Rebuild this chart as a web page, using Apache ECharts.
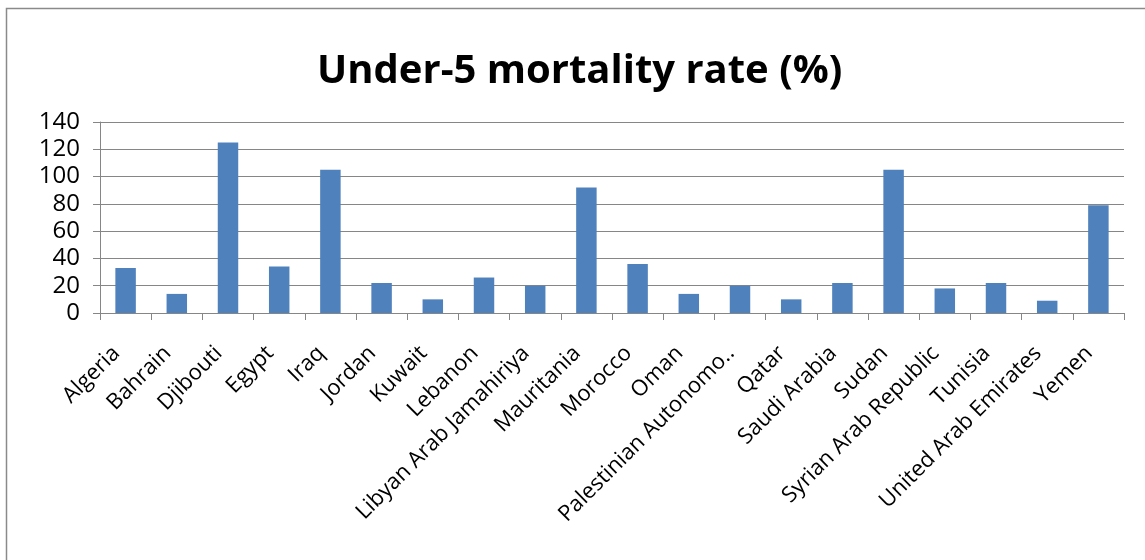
<!DOCTYPE html>
<html>
<head>
<meta charset="utf-8">
<script src="https://cdn.jsdelivr.net/npm/echarts@6/dist/echarts.min.js"></script>
<style>
html,body{margin:0;padding:0;background:#fff;}
#chart{width:1145px;height:560px;}
</style>
</head>
<body>
<div id="chart"></div>
<script>
var titleText = 'Under-5 mortality rate (%)';
var categories = ['Algeria','Bahrain','Djibouti','Egypt','Iraq','Jordan','Kuwait','Lebanon','Libyan Arab Jamahiriya','Mauritania','Morocco','Oman','Palestinian Autonomo..','Qatar','Saudi Arabia','Sudan','Syrian Arab Republic','Tunisia','United Arab Emirates','Yemen'];
var mortality = [33, 14, 125, 34, 105, 22, 10, 26, 20, 92, 36, 14, 20, 10, 22, 105, 18, 22, 9, 79];
var yTicks = {min: 0, max: 140, interval: 20};

var chart = echarts.init(document.getElementById('chart'));
chart.setOption({
  animation: false,
  backgroundColor: '#ffffff',
  title: {
    text: titleText,
    left: 312,
    top: 46,
    textStyle: {fontFamily: 'Open Sans', fontWeight: 'bold', fontSize: 40, color: '#000', lineHeight: 42}
  },
  graphic: [{
    type: 'rect',
    shape: {x: 6.5, y: 8.5, width: 1300, height: 700},
    style: {fill: 'none', stroke: '#8a8a8a', lineWidth: 1.5},
    silent: true
  }],
  grid: {left: 100, right: 21, top: 122, bottom: 247, containLabel: false},
  xAxis: {
    type: 'category',
    data: categories,
    boundaryGap: true,
    axisLine: {lineStyle: {color: '#868686', width: 1}},
    axisTick: {show: true, length: 7, lineStyle: {color: '#868686'}},
    axisLabel: {
      interval: 0, rotate: 45, margin: 46,
      verticalAlign: 'bottom',
      fontFamily: 'Open Sans', fontSize: 22, lineHeight: 26, color: '#000'
    },
    splitLine: {show: false}
  },
  yAxis: {
    type: 'value',
    min: yTicks.min, max: yTicks.max, interval: yTicks.interval,
    axisLine: {show: true, lineStyle: {color: '#868686', width: 1}},
    axisTick: {show: true, length: 7, lineStyle: {color: '#868686'}},
    axisLabel: {margin: 20, fontFamily: 'Open Sans', fontSize: 24, color: '#000'},
    splitLine: {show: true, lineStyle: {color: '#868686', width: 1}}
  },
  series: [{
    type: 'bar',
    data: mortality,
    barWidth: '40%',
    itemStyle: {color: '#4F81BD'}
  }]
});
</script>
</body>
</html>
